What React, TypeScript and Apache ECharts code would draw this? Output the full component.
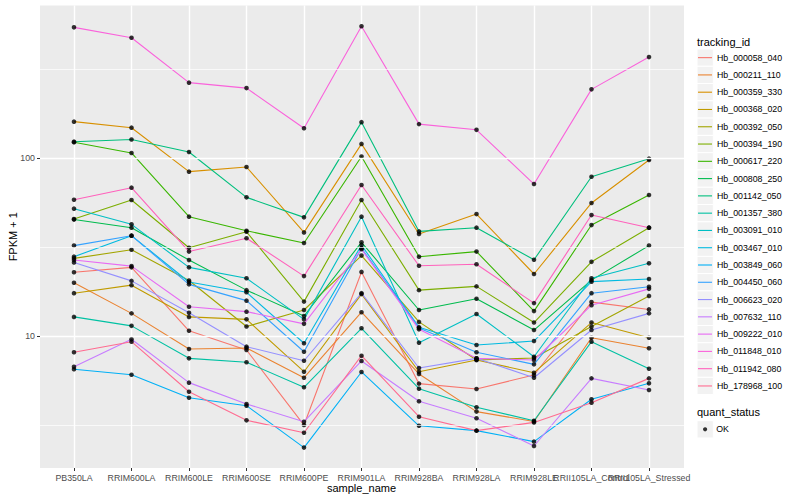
import React, { useEffect, useRef } from "react";
import * as echarts from "echarts";

const categories = [
  "PB350LA", "RRIM600LA", "RRIM600LE", "RRIM600SE", "RRIM600PE", "RRIM901LA",
  "RRIM928BA", "RRIM928LA", "RRIM928LE", "RRII105LA_Control", "RRII105LA_Stressed",
];

const trackingIds = [
  "Hb_000058_040", "Hb_000211_110", "Hb_000359_330", "Hb_000368_020", "Hb_000392_050",
  "Hb_000394_190", "Hb_000617_220", "Hb_000808_250", "Hb_001142_050", "Hb_001357_380",
  "Hb_003091_010", "Hb_003467_010", "Hb_003849_060", "Hb_004450_060", "Hb_006623_020",
  "Hb_007632_110", "Hb_009222_010", "Hb_011848_010", "Hb_011942_080", "Hb_178968_100",
];

const seriesColors = [
  "#F8766D", "#EA8331", "#D89000", "#C09B00", "#A3A500", "#7CAE00", "#39B600", "#00BB4E",
  "#00BF7D", "#00C1A3", "#00BFC4", "#00BAE0", "#00B0F6", "#35A2FF", "#9590FF", "#C77CFF",
  "#E76BF3", "#FA62DB", "#FF62BC", "#FF6C91",
];

// FPKM + 1 per sample, in category order
const Hb_000058_040 = [22.8, 24.3, 10.7, 8.34, 3.16, 22.9, 5.4, 5.04, 6.04, 15.5, 14.1];
const Hb_000211_110 = [19.9, 13.4, 8.45, 8.56, 5.83, 13.6, 6.12, 3.76, 3.31, 9.78, 8.53];
const Hb_000359_330 = [160, 148, 83.8, 89.0, 38.2, 120, 37.4, 48.4, 22.3, 55.9, 97.4];
const Hb_000368_020 = [17.4, 19.3, 12.8, 12.4, 6.3, 17.2, 6.3, 7.33, 6.22, 11.9, 9.78];
const Hb_000392_050 = [27.3, 30.5, 20.5, 11.3, 14.0, 28.3, 12.0, 7.33, 7.52, 11.3, 16.8];
const Hb_000394_190 = [45.4, 58.1, 31.3, 38.5, 15.6, 58.1, 18.1, 19.0, 11.9, 26.1, 40.6];
const Hb_000617_220 = [122.5, 106.7, 46.8, 39.0, 33.3, 102, 27.9, 29.8, 13.8, 42.0, 62.0];
const Hb_000808_250 = [45.1, 40.6, 26.7, 18.1, 12.95, 33.6, 14.0, 16.2, 10.8, 20.6, 32.2];
const Hb_001142_050 = [123.5, 127, 108, 60.1, 46.4, 159, 38.7, 40.6, 26.8, 78.5, 99.1];
const Hb_001357_380 = [12.8, 11.4, 7.49, 7.12, 5.15, 11.05, 5.06, 3.98, 3.34, 9.29, 6.55];
const Hb_003091_010 = [51.9, 42.4, 24.3, 21.1, 12.4, 46.8, 9.17, 13.3, 7.65, 21.1, 25.6];
const Hb_003467_010 = [27.9, 36.6, 20.1, 17.6, 9.1, 32.4, 11.2, 8.9, 9.37, 20.2, 20.9];
const Hb_003849_060 = [6.5, 6.06, 4.5, 4.06, 2.36, 6.28, 3.13, 2.94, 2.55, 4.41, 5.42];
const Hb_004450_060 = [32.2, 36.6, 19.5, 15.8, 8.16, 31.1, 11.1, 8.1, 6.93, 17.4, 18.9];
const Hb_006623_020 = [25.9, 20.4, 13.5, 8.71, 7.26, 17.4, 6.61, 7.49, 5.83, 10.8, 13.4];
const Hb_007632_110 = [6.72, 9.58, 5.47, 4.15, 3.3, 7.24, 4.3, 3.45, 2.41, 5.78, 4.97];
const Hb_009222_010 = [26.7, 24.7, 14.6, 13.7, 11.7, 30.7, 10.9, 7.49, 7.33, 14.9, 18.4];
const Hb_011848_010 = [542, 474, 265, 247, 147, 550, 155, 144, 71.4, 243, 369];
const Hb_011942_080 = [58.3, 68.1, 29.8, 35.4, 21.7, 70.5, 24.8, 25.3, 15.3, 47.8, 40.6];
const Hb_178968_100 = [8.1, 9.29, 4.86, 3.36, 2.86, 7.75, 3.52, 2.94, 3.27, 4.22, 5.78];

const seriesValues = [
  Hb_000058_040, Hb_000211_110, Hb_000359_330, Hb_000368_020, Hb_000392_050,
  Hb_000394_190, Hb_000617_220, Hb_000808_250, Hb_001142_050, Hb_001357_380,
  Hb_003091_010, Hb_003467_010, Hb_003849_060, Hb_004450_060, Hb_006623_020,
  Hb_007632_110, Hb_009222_010, Hb_011848_010, Hb_011942_080, Hb_178968_100,
];

const quantStatus = ["OK"];

// y axis (log10) range and breaks
const yMin = 1.813;
const yMax = 719;
const yMajorBreaks = [10, 100];
const yMinorBreaks = [3.1623, 31.623, 316.23];

const FONT = "'Liberation Sans', Arial, Helvetica, sans-serif";

export default function App() {
  const ref = useRef<HTMLDivElement>(null);

  useEffect(() => {
    if (!ref.current) return;
    const chart = echarts.init(ref.current, null, { renderer: "svg" });

    const lineSeries = trackingIds.map((id, i) => ({
      type: "line",
      name: id,
      xAxisIndex: 1,
      yAxisIndex: 1,
      data: seriesValues[i],
      symbol: "none",
      showSymbol: false,
      silent: true,
      z: 3,
      lineStyle: { color: seriesColors[i], width: 1.1 },
      itemStyle: { color: seriesColors[i] },
    }));

    const pointData: [number, number][] = [];
    seriesValues.forEach((vals) => vals.forEach((v, j) => pointData.push([j, v])));

    const pointSeries = {
      type: "scatter",
      name: quantStatus[0],
      xAxisIndex: 1,
      yAxisIndex: 1,
      data: pointData,
      symbol: "circle",
      symbolSize: 4.6,
      silent: true,
      z: 4,
      itemStyle: { color: "#000000" },
    };

    const gridSeries = {
      type: "line",
      name: "__grid",
      xAxisIndex: 0,
      yAxisIndex: 0,
      data: [],
      silent: true,
      z: 1,
      markLine: {
        silent: true,
        symbol: ["none", "none"],
        label: { show: false },
        animation: false,
        data: [
          ...yMinorBreaks.map((v) => ({ yAxis: v, lineStyle: { color: "#FFFFFF", width: 0.7, type: "solid" } })),
          ...yMajorBreaks.map((v) => ({ yAxis: v, lineStyle: { color: "#FFFFFF", width: 1.4, type: "solid" } })),
        ],
      },
    };

    const legendTop = 49;
    const keyH = 17.28;
    const keyRects = trackingIds.map((_, i) => ({
      type: "rect",
      shape: { x: 697, y: legendTop + i * keyH, width: 16.3, height: keyH },
      style: { fill: "#F2F2F2", stroke: "#FFFFFF", lineWidth: 1 },
      silent: true,
      z: 0,
    }));

    const option: any = {
      animation: false,
      backgroundColor: "#FFFFFF",
      textStyle: { fontFamily: FONT },
      grid: [
        { left: 40, right: 116, top: 5.5, bottom: 32, show: true, backgroundColor: "#EBEBEB", borderWidth: 0, containLabel: false, outerBoundsMode: "none" },
        { left: 74, right: 151, top: 5.5, bottom: 32, show: false, containLabel: false, outerBoundsMode: "none" },
      ],
      xAxis: [
        { gridIndex: 0, type: "value", min: 0, max: 1, show: false },
        {
          gridIndex: 1,
          type: "category",
          data: categories,
          boundaryGap: false,
          axisLine: { show: false },
          axisTick: { show: true, length: 3, interval: 0, lineStyle: { color: "#333333", width: 1 } },
          axisLabel: { interval: 0, hideOverlap: false, color: "#4D4D4D", fontSize: 8.8, margin: 5, fontFamily: FONT },
          splitLine: { show: true, interval: 0, lineStyle: { color: "#FFFFFF", width: 1.4 } },
          name: "sample_name",
          nameLocation: "middle",
          nameGap: 14,
          nameMoveOverlap: false,
          nameTextStyle: { fontSize: 11, color: "#000000", fontFamily: FONT },
        },
      ],
      yAxis: [
        {
          gridIndex: 0,
          type: "log",
          logBase: 10,
          min: yMin,
          max: yMax,
          axisLine: { show: false },
          axisTick: { show: true, length: 3, customValues: yMajorBreaks, lineStyle: { color: "#333333", width: 1 } },
          axisLabel: { customValues: yMajorBreaks, color: "#4D4D4D", fontSize: 8.8, margin: 5, fontFamily: FONT },
          splitLine: { show: false },
          minorSplitLine: { show: false },
          name: "FPKM + 1",
          nameLocation: "middle",
          nameRotate: 90,
          nameGap: 22,
          nameMoveOverlap: false,
          nameTextStyle: { fontSize: 11, color: "#000000", fontFamily: FONT },
        },
        { gridIndex: 1, type: "log", logBase: 10, min: yMin, max: yMax, show: false, splitLine: { show: false } },
      ],
      legend: [
        {
          data: trackingIds,
          orient: "vertical",
          left: 698,
          top: legendTop,
          padding: 0,
          icon: "rect",
          itemWidth: 14,
          itemHeight: 1.1,
          itemGap: 0,
          selectedMode: false,
          z: 5,
          textStyle: { fontSize: 8.8, lineHeight: keyH, color: "#000000", fontFamily: FONT },
        },
        {
          data: quantStatus,
          orient: "vertical",
          left: 703,
          top: 424.3,
          padding: 0,
          icon: "circle",
          itemWidth: 4.2,
          itemHeight: 4.2,
          itemGap: 0,
          selectedMode: false,
          z: 5,
          textStyle: { fontSize: 8.8, lineHeight: 10, color: "#000000", fontFamily: FONT, padding: [0, 0, 0, 4] },
        },
      ],
      graphic: [
        ...keyRects,
        {
          type: "rect",
          shape: { x: 697, y: 429.3 - keyH / 2, width: 16.3, height: keyH },
          style: { fill: "#F2F2F2", stroke: "#FFFFFF", lineWidth: 1 },
          silent: true,
          z: 0,
        },
        {
          type: "text",
          x: 697,
          y: 41.7,
          style: { text: "tracking_id", fontSize: 11, fill: "#000000", fontFamily: FONT, verticalAlign: "middle", align: "left" },
          silent: true,
        },
        {
          type: "text",
          x: 697,
          y: 412.3,
          style: { text: "quant_status", fontSize: 11, fill: "#000000", fontFamily: FONT, verticalAlign: "middle", align: "left" },
          silent: true,
        },
      ],
      series: [gridSeries, ...lineSeries, pointSeries],
    };

    chart.setOption(option);
    return () => chart.dispose();
  }, []);

  return (
    <div
      ref={ref}
      style={{ position: "fixed", left: 0, top: 0, width: 800, height: 500, background: "#FFFFFF" }}
    />
  );
}
